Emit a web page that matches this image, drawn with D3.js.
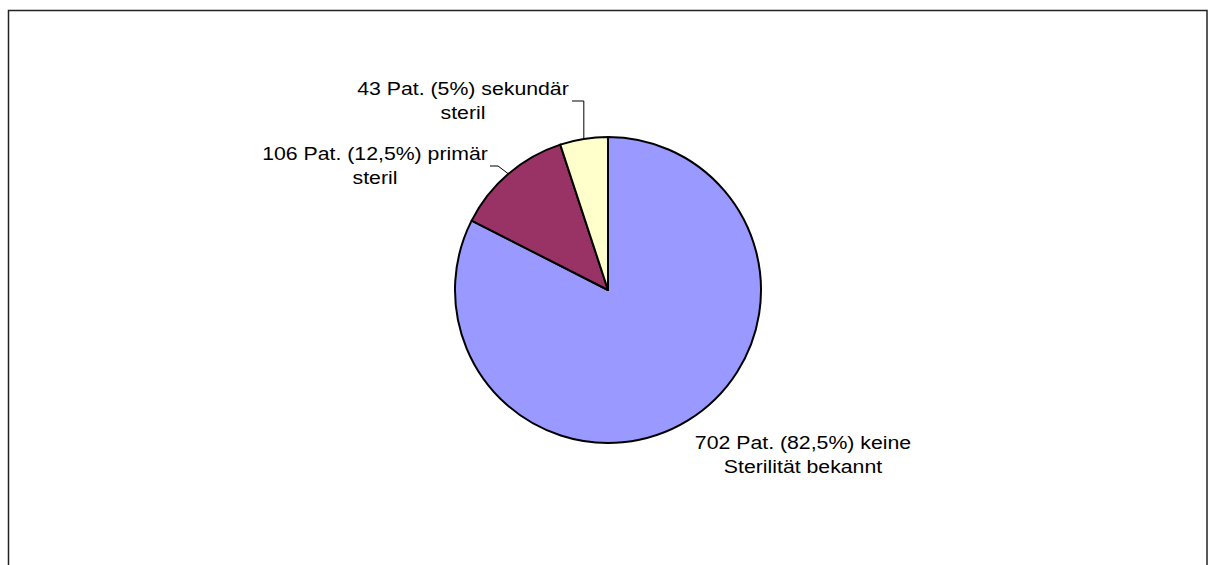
<!DOCTYPE html>
<html>
<head>
<meta charset="utf-8">
<script src="https://cdn.jsdelivr.net/npm/d3@7"></script>
<style>
  html, body { margin: 0; padding: 0; background: #fff; }
  svg { display: block; }
  text { font-family: "Liberation Sans", Arial, Helvetica, sans-serif; fill: #000; }
</style>
</head>
<body>
<svg id="chart" width="1208" height="565"></svg>
<script>
// Patients grouped by known sterility status
const categories = ["keine Sterilität bekannt", "primär steril", "sekundär steril"];
const patients = [702, 106, 43];
const percentLabels = ["82,5%", "12,5%", "5%"];
const colors = ["#9999FF", "#993366", "#FFFFCC"];

// Label text lines per slice
const labelLines = [
  ["702 Pat. (82,5%) keine", "Sterilität bekannt"],
  ["106 Pat. (12,5%) primär", "steril"],
  ["43 Pat. (5%) sekundär", "steril"]
];

const svg = d3.select("#chart");
const W = 1208, H = 565;

// Outer chart frame
svg.append("rect")
  .attr("x", 8.5).attr("y", 10.5)
  .attr("width", 1198.5).attr("height", 600)
  .attr("fill", "#fff")
  .attr("stroke", "#222")
  .attr("stroke-width", 1.5);

const cx = 608, cy = 290, r = 153;

const pie = d3.pie().sort(null).value(d => d).startAngle(0).endAngle(2 * Math.PI);
const arcs = pie(patients);
const arc = d3.arc().innerRadius(0).outerRadius(r);

const g = svg.append("g").attr("transform", `translate(${cx},${cy})`);

g.selectAll("path.slice")
  .data(arcs)
  .enter().append("path")
  .attr("class", "slice")
  .attr("d", arc)
  .attr("fill", (d, i) => colors[i])
  .attr("stroke", "#000")
  .attr("stroke-width", 2)
  .attr("stroke-linejoin", "round");

// Point on the rim at the middle of a slice
function rimPoint(d) {
  const a = (d.startAngle + d.endAngle) / 2;
  return [r * Math.sin(a), -r * Math.cos(a)];
}

// Label placements (relative to chart centre) and leader paths
const labelPos = [
  { x: 803 - cx, y: 449 - cy },
  { x: 375 - cx, y: 160 - cy },
  { x: 463 - cx, y: 95 - cy }
];

const leaderBends = [
  null,
  [[498 - cx, 166 - cy], [490 - cx, 166 - cy]],
  [[583 - cx, 101 - cy], [572 - cx, 101 - cy]]
];

arcs.forEach((d, i) => {
  if (!leaderBends[i]) return;
  const p0 = rimPoint(d);
  const b = leaderBends[i];
  // slice 2 leader goes straight up from the rim before turning
  const pts = i === 2 ? [p0, [p0[0], b[0][1]], b[1]] : [p0, b[0], b[1]];
  g.append("path")
    .attr("d", d3.line()(pts))
    .attr("fill", "none")
    .attr("stroke", "#000")
    .attr("stroke-width", 1);
});

arcs.forEach((d, i) => {
  const t = g.append("g")
    .attr("transform", `translate(${labelPos[i].x},${labelPos[i].y}) scale(1.15,1)`);
  labelLines[i].forEach((line, j) => {
    t.append("text")
      .attr("x", 0)
      .attr("y", j * 24.5)
      .attr("text-anchor", "middle")
      .attr("font-size", "18.5px")
      .text(line);
  });
});
</script>
</body>
</html>
